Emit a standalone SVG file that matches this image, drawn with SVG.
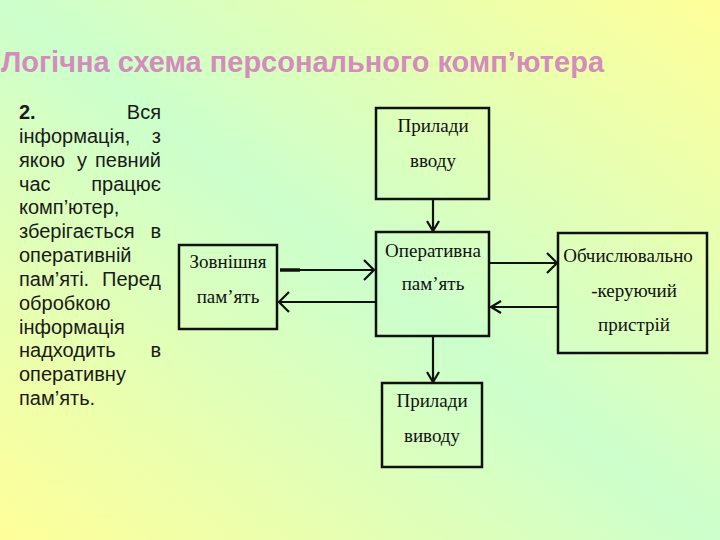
<svg xmlns="http://www.w3.org/2000/svg" width="720" height="540" viewBox="0 0 720 540">
<defs>
<linearGradient id="bg" x1="1" y1="0" x2="0" y2="1">
<stop offset="0" stop-color="#ffff99"/>
<stop offset="0.5" stop-color="#ccffcc"/>
<stop offset="1" stop-color="#ffff99"/>
</linearGradient>
<marker id="arr" markerUnits="userSpaceOnUse" markerWidth="14" markerHeight="16" refX="11" refY="8" orient="auto" viewBox="0 0 14 16">
<path d="M1,2 L11,8 L1,14" fill="none" stroke="#111" stroke-width="2.2"/>
</marker>
<marker id="arrBig" markerUnits="userSpaceOnUse" markerWidth="14" markerHeight="24" refX="11" refY="12" orient="auto" viewBox="0 0 14 24">
<path d="M1,2 L11,12 L1,22" fill="none" stroke="#111" stroke-width="2.2"/>
</marker>
</defs>
<style>
.box{fill:none;stroke:#111;stroke-width:2.5}
.lbl{font-family:"Liberation Serif","Times New Roman",serif;font-size:19px;fill:#111;text-anchor:middle}
.body{font-family:"Liberation Sans",Arial,sans-serif;font-size:20px;fill:#1a1a1a}
.end{text-anchor:end}
.mid{text-anchor:middle}
.con{fill:none;stroke:#111;stroke-width:2.2}
</style>
<rect x="0" y="0" width="720" height="540" fill="url(#bg)"/>
<text x="1" y="72" font-family="'Liberation Sans',Arial,sans-serif" font-weight="bold" font-size="30" fill="#d48cbf" textLength="603" lengthAdjust="spacingAndGlyphs">Логічна схема персонального комп’ютера</text>
<g id="description">
<text class="body" x="19" y="119" font-weight="bold">2.</text><text class="body end" x="161" y="119">Вся</text>
<text class="body" x="19" y="143">інформація,</text><text class="body end" x="161" y="143">з</text>
<text class="body" x="19" y="167">якою</text><text class="body mid" x="82" y="167">у</text><text class="body end" x="161" y="167">певний</text>
<text class="body" x="19" y="191">час</text><text class="body end" x="161" y="191">працює</text>
<text class="body" x="19" y="214">комп’ютер,</text>
<text class="body" x="19" y="238">зберігається</text><text class="body end" x="161" y="238">в</text>
<text class="body" x="19" y="262">оперативній</text>
<text class="body" x="19" y="286">пам’яті.</text><text class="body end" x="161" y="286">Перед</text>
<text class="body" x="19" y="310">обробкою</text>
<text class="body" x="19" y="334">інформація</text>
<text class="body" x="19" y="357">надходить</text><text class="body end" x="161" y="357">в</text>
<text class="body" x="19" y="381">оперативну</text>
<text class="body" x="19" y="405">пам’ять.</text>
</g>
<g id="input">
<rect class="box" x="376" y="108" width="113" height="91"/>
<text class="lbl" x="433" y="132">Прилади</text>
<text class="lbl" x="433" y="167">вводу</text>
</g>
<g id="ram">
<rect class="box" x="376" y="232" width="113" height="104"/>
<text class="lbl" x="433" y="257">Оперативна</text>
<text class="lbl" x="433" y="290">пам’ять</text>
</g>
<g id="external">
<rect class="box" x="179" y="245" width="98" height="84"/>
<text class="lbl" x="228" y="268">Зовнішня</text>
<text class="lbl" x="228" y="303">пам’ять</text>
</g>
<g id="cpu">
<rect class="box" x="558" y="233" width="149" height="120"/>
<text class="lbl" x="628" y="262">Обчислювально</text>
<text class="lbl" x="634" y="297">-керуючий</text>
<text class="lbl" x="634" y="331">пристрій</text>
</g>
<g id="output">
<rect class="box" x="382" y="383" width="100" height="84"/>
<text class="lbl" x="432" y="407">Прилади</text>
<text class="lbl" x="432" y="442">виводу</text>
</g>
<g id="connectors">
<line class="con" x1="433" y1="199" x2="433" y2="231" marker-end="url(#arr)"/>
<line class="con" x1="280" y1="270" x2="374" y2="270" marker-end="url(#arrBig)"/>
<line x1="280" y1="270" x2="300" y2="270" stroke="#111" stroke-width="3.5"/>
<line class="con" x1="376" y1="302" x2="279" y2="302" marker-end="url(#arrBig)"/>
<line class="con" x1="489" y1="263" x2="557" y2="263" marker-end="url(#arrBig)"/>
<line class="con" x1="558" y1="307" x2="491" y2="307" marker-end="url(#arr)"/>
<line class="con" x1="433" y1="336" x2="433" y2="382" marker-end="url(#arr)"/>
</g>
</svg>
